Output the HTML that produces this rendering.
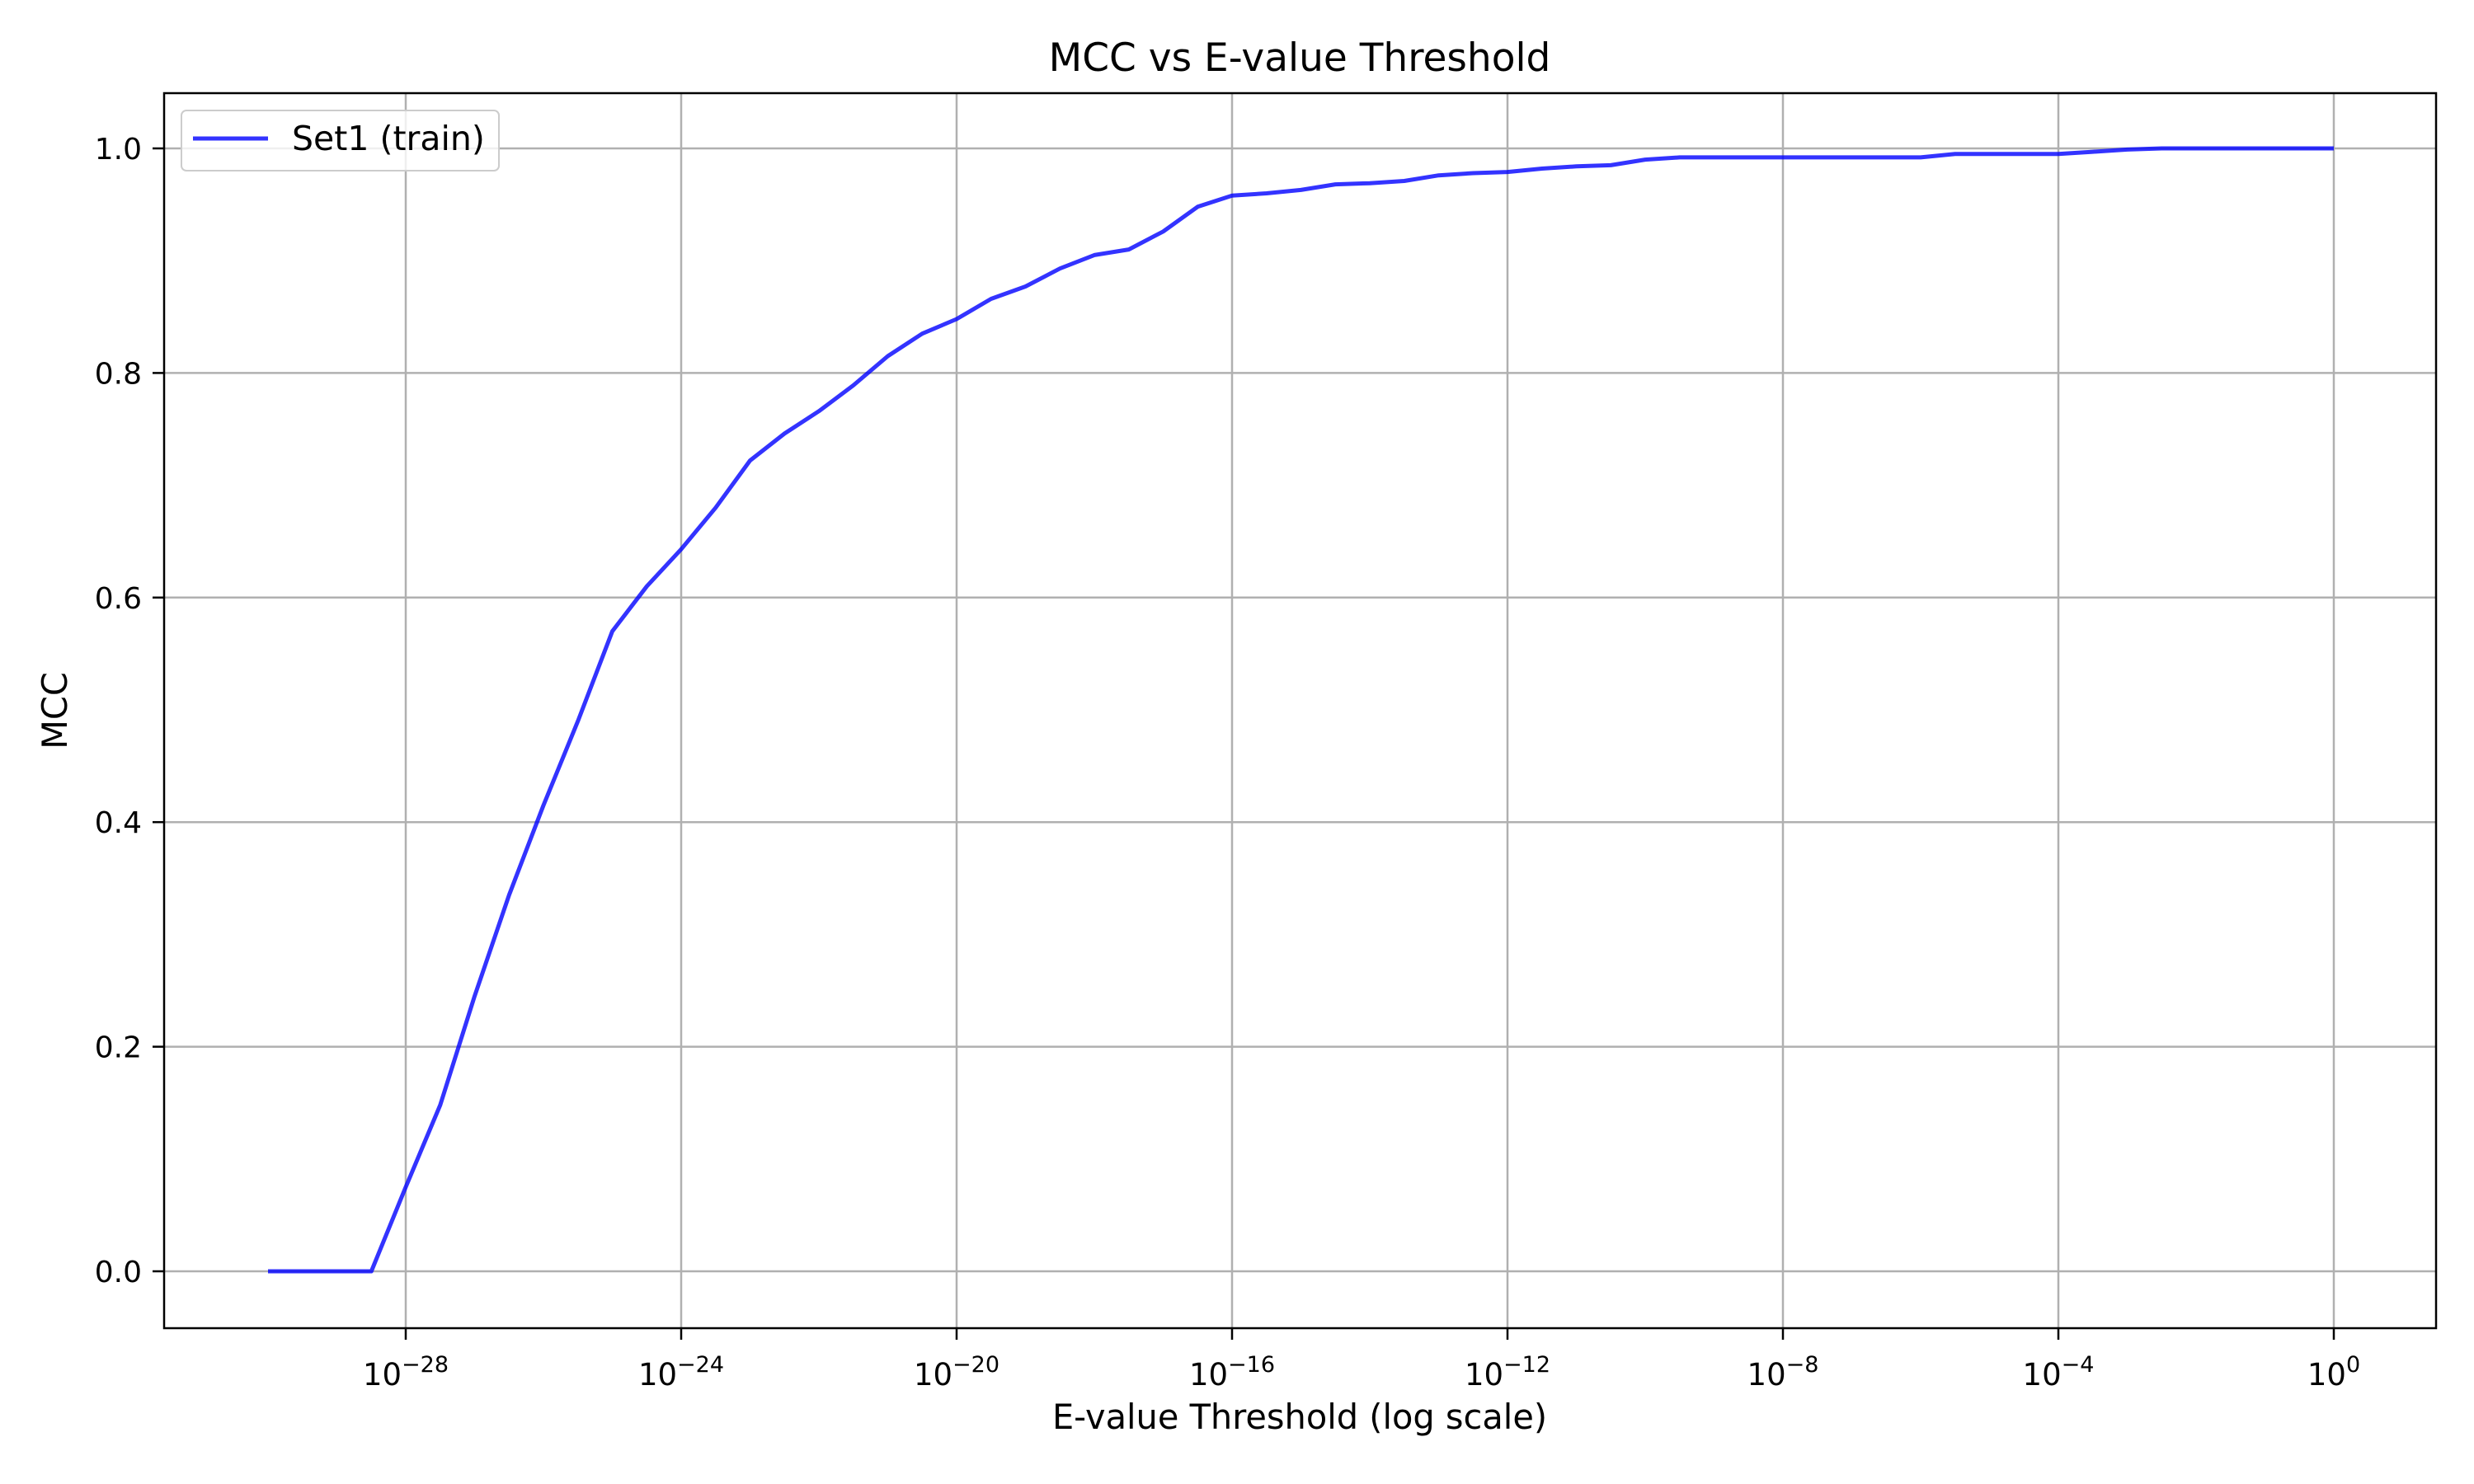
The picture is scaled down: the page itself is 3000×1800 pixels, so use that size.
<!DOCTYPE html>
<html><head><meta charset="utf-8"><style>
html,body{margin:0;padding:0;background:#fff;}
svg{display:block;font-family:"DejaVu Sans","Liberation Sans",sans-serif;}
</style></head><body>
<svg id="chart" width="3000" height="1800" viewBox="0 0 3000 1800" xmlns="http://www.w3.org/2000/svg">
<rect width="3000" height="1800" fill="#fff"/>
<g id="grid"></g>
<g id="ticks"></g>
<g id="series"></g>
<rect x="199" y="113" width="2755" height="1498" fill="none" stroke="#000" stroke-width="2.5"/>
<text x="1576" y="86" font-size="47" text-anchor="middle">MCC vs E-value Threshold</text>
<text x="1576" y="1733" font-size="41.5" text-anchor="middle">E-value Threshold (log scale)</text>
<text transform="translate(81,862) rotate(-90)" font-size="41.5" text-anchor="middle">MCC</text>
<g>
<rect x="220" y="134" width="385" height="73" rx="6" fill="#fff" fill-opacity="0.8" stroke="#ccc" stroke-width="2"/>
<line x1="234" y1="168" x2="325" y2="168" stroke="blue" stroke-opacity="0.8" stroke-width="5"/>
<text x="354" y="182" font-size="41">Set1 (train)</text>
</g>
</svg>
<script>
const xExponents = [-30,-29.5,-29,-28.5,-28,-27.5,-27,-26.5,-26,-25.5,-25,-24.5,-24,-23.5,-23,-22.5,-22,-21.5,-21,-20.5,-20,-19.5,-19,-18.5,-18,-17.5,-17,-16.5,-16,-15.5,-15,-14.5,-14,-13.5,-13,-12.5,-12,-11.5,-11,-10.5,-10,-9.5,-9,-8.5,-8,-7.5,-7,-6.5,-6,-5.5,-5,-4.5,-4,-3.5,-3,-2.5,-2,-1.5,-1,-0.5,0];
const mccValues = [0,0,0,0,0.075,0.148,0.245,0.335,0.415,0.49,0.57,0.61,0.643,0.68,0.722,0.746,0.766,0.789,0.815,0.835,0.848,0.866,0.877,0.893,0.905,0.91,0.926,0.948,0.958,0.96,0.963,0.968,0.969,0.971,0.976,0.978,0.979,0.982,0.984,0.985,0.99,0.992,0.992,0.992,0.992,0.992,0.992,0.992,0.992,0.995,0.995,0.995,0.995,0.997,0.999,1.0,1.0,1.0,1.0,1.0,1.0];
const xTickExps = [-28,-24,-20,-16,-12,-8,-4,0];
const yTickVals = [0.0,0.2,0.4,0.6,0.8,1.0];
const NS='http://www.w3.org/2000/svg';
function xs(e){return 2830 + e*83.5;}
function ys(v){return 1542 - v*(1542-180);}
function mk(tag,attrs,parent){const el=document.createElementNS(NS,tag);for(const k in attrs)el.setAttribute(k,attrs[k]);parent.appendChild(el);return el;}
const grid=document.getElementById('grid'),ticks=document.getElementById('ticks'),series=document.getElementById('series');
xTickExps.forEach(e=>{
  const x=xs(e);
  const g=mk('line',{x1:x,y1:113,x2:x,y2:1611,stroke:'#b0b0b0','stroke-width':2.5},grid);
  
  
  const t=mk('line',{x1:x,y1:1611,x2:x,y2:1625,stroke:'#000','stroke-width':2.5},ticks);
  
  
  const tx=mk('text',{x:x,y:1680,'font-size':37,'text-anchor':'middle'},ticks);
  
  
  const b=mk('tspan',{},tx);b.textContent='10';
  const s=mk('tspan',{dy:-16,'font-size':27},tx);s.textContent=(e<0?'\u2212':'')+Math.abs(e);
});
yTickVals.forEach(v=>{
  const y=ys(v);
  const g=mk('line',{x1:199,y1:y,x2:2954,y2:y,stroke:'#b0b0b0','stroke-width':2.5},grid);
  
  
  const t=mk('line',{x1:185,y1:y,x2:199,y2:y,stroke:'#000','stroke-width':2.5},ticks);
  
  
  const tx=mk('text',{x:172,y:y+13,'font-size':36,'text-anchor':'end'},ticks);
  
  
  tx.textContent=v.toFixed(1);
});
const pts=xExponents.map((e,i)=>xs(e).toFixed(1)+','+ys(mccValues[i]).toFixed(1)).join(' ');
const line=mk('polyline',{points:pts,fill:'none',stroke:'blue','stroke-opacity':0.8,'stroke-width':5,'stroke-linejoin':'round'},series);


</script>
</body></html>
